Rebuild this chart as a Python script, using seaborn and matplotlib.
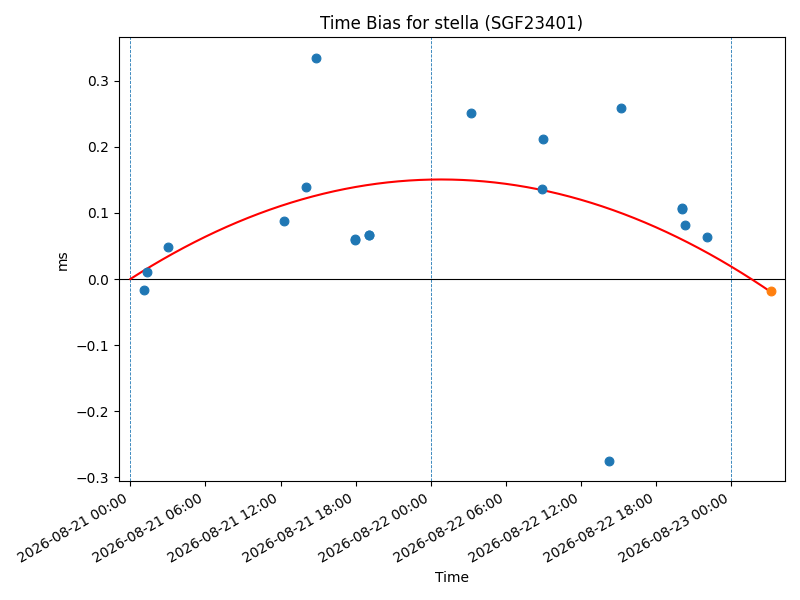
import matplotlib
matplotlib.use("Agg")
import matplotlib.pyplot as plt
import matplotlib.dates as mdates
import numpy as np
import pandas as pd
import seaborn as sns

# measured time bias (ms)
obs_times = ["2026-08-21 01:05", "2026-08-21 01:20", "2026-08-21 03:01",
             "2026-08-21 12:17", "2026-08-21 14:03", "2026-08-21 14:50",
             "2026-08-21 17:55", "2026-08-21 17:57", "2026-08-21 19:05",
             "2026-08-21 19:06", "2026-08-22 03:14", "2026-08-22 08:58",
             "2026-08-22 08:53", "2026-08-22 14:16", "2026-08-22 15:14",
             "2026-08-22 20:03", "2026-08-22 20:04", "2026-08-22 20:21",
             "2026-08-22 22:02"]
obs_bias = [-0.016, 0.011, 0.049,
            0.088, 0.139, 0.335,
            0.060, 0.059, 0.067,
            0.066, 0.251, 0.212,
            0.136, -0.2755, 0.259,
            0.107, 0.106, 0.082,
            0.064]

# predicted point
pred_time = ["2026-08-23 03:13"]
pred_bias = [-0.018]

# quadratic fit: bias = c0 + c1*t + c2*t^2, t in hours since fit_epoch
fit_epoch = "2026-08-21 00:00"
fit_coeffs = [0.0, 0.01214, -2.447e-4]

day_lines = ["2026-08-21", "2026-08-22", "2026-08-23"]

# ----------------------------------------------------------------------------
obs = pd.DataFrame({"time": pd.to_datetime(obs_times), "bias": obs_bias})
pred = pd.DataFrame({"time": pd.to_datetime(pred_time), "bias": pred_bias})

t0 = pd.Timestamp(fit_epoch)
t_end = (pred["time"].iloc[0] - t0) / pd.Timedelta(hours=1)
hours = np.linspace(0, t_end, 300)
fit = pd.DataFrame({
    "time": t0 + pd.to_timedelta(hours, unit="h"),
    "bias": fit_coeffs[0] + fit_coeffs[1] * hours + fit_coeffs[2] * hours ** 2,
})

fig, ax = plt.subplots(figsize=(8, 6), dpi=100)

for d in day_lines:
    ax.axvline(pd.Timestamp(d), color="C0", linestyle="--", linewidth=0.6)
ax.axhline(0, color="black", linewidth=0.8)

sns.lineplot(data=fit, x="time", y="bias", color="red", linewidth=1.5, ax=ax)
sns.scatterplot(data=obs, x="time", y="bias", color="C0", s=40,
                edgecolor="C0", linewidth=0.8, ax=ax, zorder=3)
sns.scatterplot(data=pred, x="time", y="bias", color="C1", s=40,
                edgecolor="C1", linewidth=0.8, ax=ax, zorder=3)

ax.set_xlim(pd.Timestamp("2026-08-20 23:04"), pd.Timestamp("2026-08-23 04:18"))
ax.xaxis.set_major_locator(mdates.HourLocator(byhour=[0, 6, 12, 18]))
ax.xaxis.set_major_formatter(mdates.DateFormatter("%Y-%m-%d %H:%M"))

ax.set_title("Time Bias for stella (SGF23401)")
ax.set_xlabel("Time")
ax.set_ylabel("ms")

fig.autofmt_xdate()
fig.tight_layout()
fig.savefig("out.png")
